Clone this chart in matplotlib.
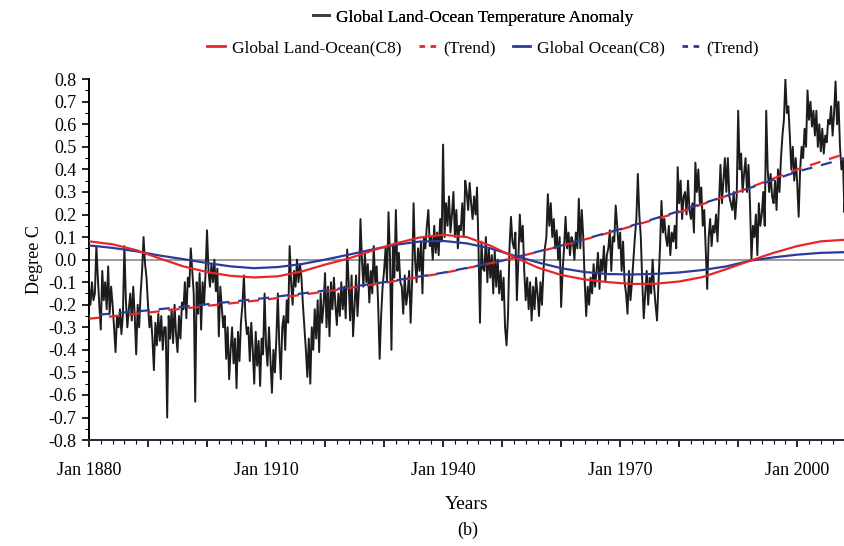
import numpy as np
import matplotlib.pyplot as plt
from matplotlib.lines import Line2D
from matplotlib.ticker import MultipleLocator, FuncFormatter

plt.rcParams['font.family'] = ['Liberation Serif', 'DejaVu Serif']
plt.rcParams['axes.unicode_minus'] = False

anomaly = [
    [-0.12, -0.20, -0.10, -0.18], [-0.15, 0.06, -0.08, -0.20], [-0.31, -0.05, -0.18, -0.10],
    [-0.22, -0.03, -0.24, -0.12], [-0.20, -0.30, -0.41, -0.25], [-0.30, -0.22, -0.33, -0.24],
    [0.06, -0.18, -0.30, -0.22], [-0.15, -0.27, -0.12, -0.25], [-0.42, -0.20, -0.30, -0.15],
    [-0.05, 0.10, -0.02, -0.08], [-0.20, -0.30, -0.25, -0.35], [-0.49, -0.28, -0.38, -0.24],
    [-0.36, -0.25, -0.40, -0.30], [-0.30, -0.70, -0.25, -0.35], [-0.22, -0.37, -0.20, -0.33],
    [-0.41, -0.25, -0.35, -0.19], [-0.22, -0.10, -0.26, -0.08], [-0.12, 0.05, -0.05, -0.15],
    [-0.63, -0.10, -0.24, -0.06], [-0.31, -0.10, -0.20, -0.06], [0.13, -0.05, -0.12, -0.02],
    [-0.10, 0.00, -0.14, -0.04], [-0.34, -0.12, -0.21, -0.30], [-0.25, -0.44, -0.30, -0.53],
    [-0.40, -0.30, -0.46, -0.35], [-0.57, -0.32, -0.45, -0.28], [-0.20, -0.07, -0.25, -0.33],
    [-0.30, -0.45, -0.28, -0.40], [-0.55, -0.32, -0.47, -0.36], [-0.56, -0.35, -0.42, -0.15],
    [-0.38, -0.47, -0.30, -0.45], [-0.59, -0.40, -0.50, -0.35], [-0.15, -0.38, -0.53, -0.30],
    [-0.25, -0.40, -0.18, -0.28], [0.06, -0.10, -0.20, -0.05], [-0.12, 0.00, -0.10, -0.02],
    [-0.08, -0.20, -0.30, -0.40], [-0.52, -0.35, -0.55, -0.30], [-0.40, -0.22, -0.35, -0.18],
    [-0.41, -0.15, -0.28, -0.20], [-0.06, -0.30, -0.12, -0.34], [-0.10, -0.22, -0.08, -0.20],
    [-0.29, -0.15, -0.25, -0.10], [-0.22, -0.12, -0.26, 0.045], [-0.10, -0.27, -0.07, -0.34],
    [-0.20, -0.07, -0.25, -0.12], [0.18, 0.00, -0.12, 0.03], [-0.10, -0.02, -0.19, -0.05],
    [-0.15, 0.06, -0.10, -0.03], [-0.20, -0.44, -0.25, -0.12], [-0.05, 0.05, -0.10, 0.21],
    [0.02, -0.40, 0.06, -0.08], [0.22, -0.05, 0.03, -0.10], [-0.12, -0.24, -0.07, -0.20],
    [-0.15, -0.05, -0.28, -0.10], [0.25, 0.00, -0.10, 0.05], [-0.05, 0.08, -0.15, 0.10],
    [0.05, 0.15, 0.22, 0.06], [0.10, 0.00, 0.15, 0.03], [0.12, 0.02, 0.18, 0.08],
    [0.51, 0.10, 0.25, 0.15], [0.28, 0.12, 0.20, 0.30], [0.10, 0.22, 0.05, 0.15],
    [0.13, 0.25, 0.10, 0.35], [0.30, 0.22, 0.34, 0.25], [0.18, 0.28, 0.20, 0.32],
    [0.05, -0.28, 0.08, -0.04], [-0.05, 0.10, -0.10, 0.05], [-0.08, 0.02, -0.15, 0.04],
    [-0.12, 0.00, -0.15, -0.05], [-0.18, -0.08, -0.30, -0.38], [-0.25, 0.05, 0.19, 0.08],
    [0.05, 0.12, -0.18, 0.00], [0.20, 0.08, 0.15, -0.05], [-0.18, -0.08, -0.22, -0.10],
    [-0.27, -0.12, -0.22, -0.08], [-0.15, -0.25, -0.10, -0.20], [-0.05, 0.05, 0.10, 0.29],
    [0.15, 0.25, 0.10, 0.18], [0.05, 0.13, 0.00, 0.10], [-0.21, -0.05, 0.05, 0.19],
    [0.05, 0.12, 0.02, 0.10], [0.08, 0.00, 0.12, 0.05], [0.27, 0.05, 0.22, 0.10],
    [-0.10, -0.25, -0.12, -0.20], [-0.08, -0.15, -0.02, -0.12], [-0.05, 0.03, -0.13, 0.00],
    [-0.05, 0.06, -0.10, 0.02], [0.05, 0.13, -0.05, 0.10], [0.08, 0.24, 0.15, 0.05],
    [0.12, -0.05, 0.08, -0.10], [-0.15, -0.24, -0.05, -0.18], [-0.10, 0.00, 0.10, 0.18],
    [0.38, 0.20, 0.10, -0.10], [-0.26, -0.15, -0.05, -0.20], [-0.08, -0.15, 0.00, -0.12],
    [-0.20, -0.27, -0.10, 0.05], [0.26, 0.12, 0.18, 0.10], [0.06, 0.15, 0.02, 0.12],
    [0.08, 0.15, 0.05, 0.41], [0.25, 0.35, 0.18, 0.28], [0.30, 0.20, 0.35, 0.22],
    [0.18, 0.25, 0.12, 0.43], [0.30, 0.40, 0.25, 0.32], [0.15, 0.22, 0.05, -0.13],
    [0.10, 0.18, 0.06, 0.15], [0.12, 0.20, 0.08, 0.25], [0.42, 0.25, 0.35, 0.45],
    [0.30, 0.45, 0.28, 0.25], [0.22, 0.30, 0.18, 0.28], [0.66, 0.40, 0.47, 0.30],
    [0.38, 0.45, 0.30, 0.42], [0.25, 0.00, 0.15, 0.10], [0.20, 0.02, 0.25, 0.15],
    [0.20, 0.30, 0.15, 0.66], [0.40, 0.30, 0.38, 0.28], [0.25, 0.35, 0.22, 0.40],
    [0.30, 0.45, 0.55, 0.62], [0.80, 0.65, 0.68, 0.55], [0.40, 0.50, 0.35, 0.45],
    [0.34, 0.19, 0.40, 0.50], [0.45, 0.58, 0.50, 0.75], [0.62, 0.70, 0.59, 0.66],
    [0.55, 0.66, 0.50, 0.60], [0.48, 0.58, 0.47, 0.55], [0.52, 0.62, 0.60, 0.68],
    [0.55, 0.65, 0.79, 0.60], [0.70, 0.50, 0.40, 0.45], [0.21, 0.35],
]

# smooth C8 components and trends
c8_years = [1880, 1884, 1888, 1892, 1896, 1900, 1904, 1908, 1912, 1916, 1920, 1924, 1928,
            1932, 1936, 1940, 1944, 1948, 1952, 1956, 1960, 1964, 1968, 1972, 1976, 1980,
            1984, 1988, 1992, 1996, 2000, 2004, 2008]
land_ocean_c8 = [0.081, 0.068, 0.042, 0.005, -0.030, -0.055, -0.072, -0.079, -0.074, -0.053,
                 -0.022, 0.005, 0.040, 0.072, 0.098, 0.110, 0.100, 0.062, 0.012, -0.035,
                 -0.068, -0.088, -0.100, -0.108, -0.107, -0.097, -0.077, -0.042, -0.005,
                 0.030, 0.060, 0.081, 0.088]
ocean_c8 = [0.063, 0.052, 0.037, 0.018, 0.002, -0.015, -0.030, -0.038, -0.033, -0.020,
            0.000, 0.022, 0.045, 0.066, 0.080, 0.083, 0.072, 0.050, 0.018, -0.012,
            -0.038, -0.055, -0.064, -0.066, -0.063, -0.057, -0.046, -0.030, -0.005,
            0.010, 0.022, 0.030, 0.033]

trend_years = [1880, 1890, 1900, 1910, 1920, 1930, 1940, 1950, 1960, 1970, 1980, 1990, 2000, 2008]
land_ocean_trend = [-0.262, -0.235, -0.205, -0.177, -0.142, -0.103, -0.060, -0.005, 0.060,
                    0.133, 0.210, 0.300, 0.400, 0.468]
ocean_trend = [-0.248, -0.225, -0.198, -0.170, -0.137, -0.100, -0.058, -0.005, 0.062,
               0.135, 0.215, 0.300, 0.390, 0.447]

# flatten monthly values, place them at quarter-year steps
vals = [v for yr in anomaly for v in yr]
t = 1880 + np.arange(len(vals)) / 4.0

fig = plt.figure(figsize=(8.45, 5.46), dpi=100)
ax = fig.add_axes([0.1053, 0.194, 0.8947, 0.661])

ax.axhline(0, color='#8a8a8a', lw=1.2, zorder=1)
ax.plot(t, vals, color='#1c1c1c', lw=1.4, zorder=2)
ax.plot(c8_years, land_ocean_c8, color='#e8262a', lw=1.6, zorder=4)
ax.plot(c8_years, ocean_c8, color='#2b3a9a', lw=1.6, zorder=3)
ax.plot(trend_years, land_ocean_trend, color='#e8262a', lw=1.6, ls=(0, (5, 4)), zorder=4)
ax.plot(trend_years, ocean_trend, color='#2b3a9a', lw=1.6, ls=(4.5, (5, 4)), zorder=4)

ax.set_xlim(1880, 2008.1)
ax.set_ylim(-0.8, 0.8)

ax.spines['top'].set_visible(False)
ax.spines['right'].set_visible(False)
ax.spines['left'].set_linewidth(1.4)
ax.spines['bottom'].set_linewidth(1.4)
ax.spines['bottom'].set_color('#1e2a3a')

ax.xaxis.set_major_locator(MultipleLocator(10))
ax.xaxis.set_minor_locator(MultipleLocator(2))
ax.xaxis.set_major_formatter(FuncFormatter(
    lambda v, p: 'Jan %d' % round(v) if round(v - 1880) % 30 == 0 else ''))
ax.yaxis.set_major_locator(MultipleLocator(0.1))
ax.yaxis.set_minor_locator(MultipleLocator(0.05))
ax.yaxis.set_major_formatter(FuncFormatter(lambda v, p: '%.1f' % v))

ax.tick_params(axis='x', which='major', length=5, width=1.2, pad=11, labelsize=13)
ax.tick_params(axis='x', which='minor', length=3, width=0.8)
ax.tick_params(axis='y', which='major', length=5, width=1.2, pad=4, labelsize=13)
ax.tick_params(axis='y', which='minor', length=3, width=0.8)

ax.set_ylabel('Degree C', fontsize=13, labelpad=4)
ax.set_xlabel('Years', fontsize=14, labelpad=12)
fig.text(0.553, 0.028, '(b)', ha='center', va='center', fontsize=13)

# legends
h0 = [Line2D([], [], color='#3a3f48', lw=2)]
leg1 = fig.legend(h0, ['Global Land-Ocean Temperature Anomaly'], loc='center',
                  bbox_to_anchor=(0.56, 0.968), frameon=False, fontsize=12.5,
                  handlelength=0.9, handletextpad=0.4)
h1 = [Line2D([], [], color='#e8262a', lw=2),
      Line2D([], [], color='#e8262a', lw=2, ls=(0, (2, 2))),
      Line2D([], [], color='#2b3a9a', lw=2),
      Line2D([], [], color='#2b3a9a', lw=2, ls=(0, (2, 2)))]
fig.legend(h1, ['Global Land-Ocean(C8)', '(Trend)', 'Global Ocean(C8)', '(Trend)'],
           loc='center', bbox_to_anchor=(0.572, 0.912), ncol=4, frameon=False,
           fontsize=12.5, handlelength=1.0, handletextpad=0.4, columnspacing=1.0)
fig.add_artist(leg1)

fig.savefig('out.png', dpi=100)
